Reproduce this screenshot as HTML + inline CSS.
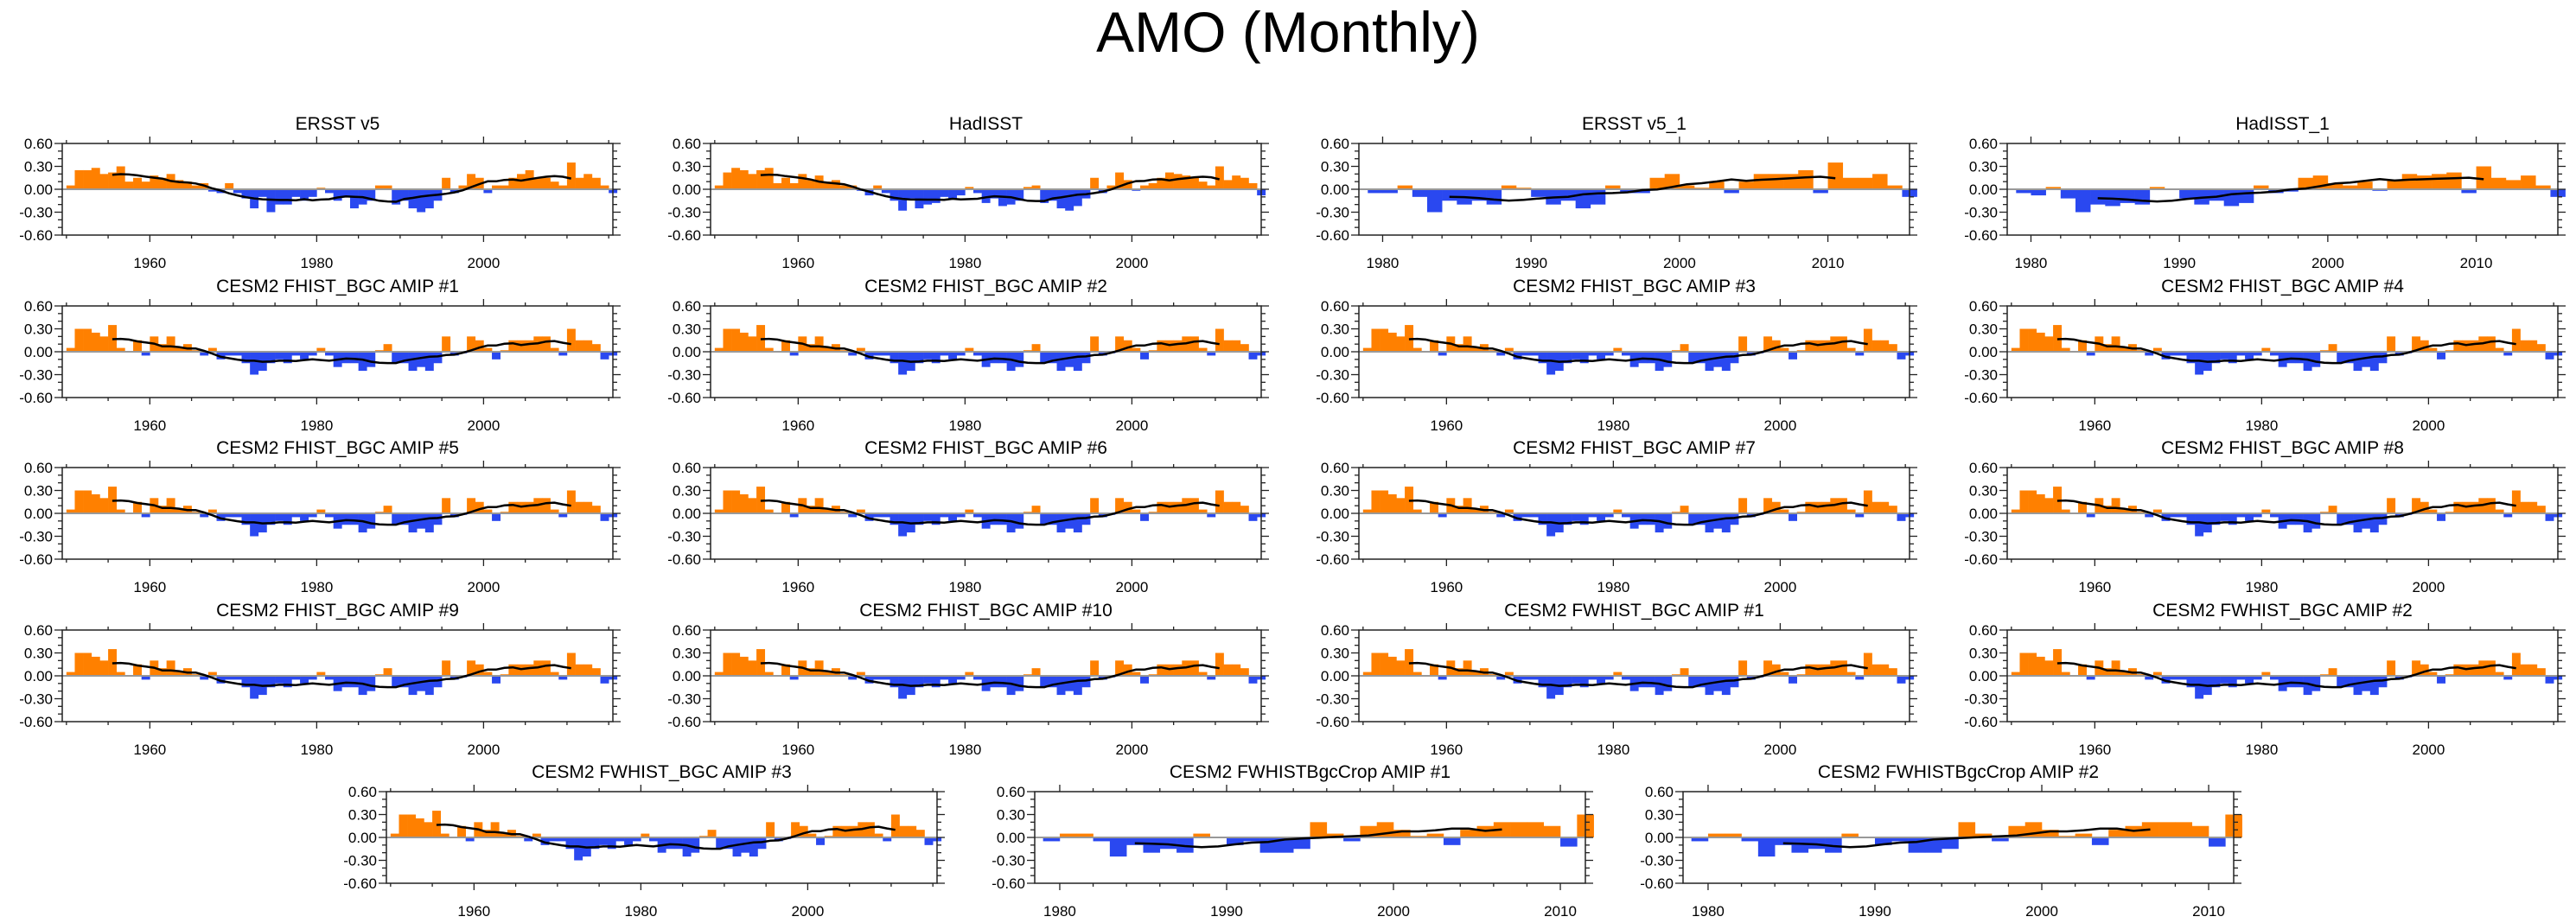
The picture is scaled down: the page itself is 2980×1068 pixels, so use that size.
<!DOCTYPE html>
<html><head><meta charset="utf-8"><style>
html,body{margin:0;padding:0;background:#fff;}
svg{display:block;font-family:"Liberation Sans",sans-serif;}
</style></head><body>
<svg id="chart" width="2980" height="1068" viewBox="0 0 2980 1068" xmlns="http://www.w3.org/2000/svg">
<rect x="0" y="0" width="2980" height="1068" fill="#fff"/>
<text x="1490" y="60" text-anchor="middle" font-size="66">AMO (Monthly)</text>
</svg>
<script>
const yTickValues = [0.6, 0.3, 0, -0.3, -0.6];
const yTickLabels = ["0.60", "0.30", "0.00", "-0.30", "-0.60"];
const longTickYears = [1960, 1980, 2000];
const shortTickYears = [1980, 1990, 2000, 2010];
const ersstYears0 = 1950;
const ersstValues = [0.05,0.25,0.25,0.28,0.2,0.22,0.3,0.1,0.15,0.1,0.18,0.15,0.2,0.12,0.1,0.05,0.08,-0.03,-0.05,0.08,-0.05,-0.12,-0.25,-0.1,-0.3,-0.2,-0.2,-0.1,-0.15,-0.1,0.02,-0.05,-0.15,-0.1,-0.25,-0.2,-0.15,0.05,0.05,-0.2,-0.15,-0.25,-0.3,-0.25,-0.15,0.15,-0.05,0.05,0.2,0.15,-0.05,0.05,0.05,0.15,0.2,0.25,0.15,0.15,0.1,0.05,0.35,0.15,0.2,0.15,0.05,-0.05];
const hadisstValues = [0.05,0.22,0.28,0.25,0.2,0.25,0.28,0.08,0.15,0.08,0.2,0.12,0.18,0.1,0.12,0.05,0.05,-0.02,-0.08,0.05,-0.05,-0.15,-0.28,-0.12,-0.25,-0.2,-0.18,-0.1,-0.12,-0.08,0.03,-0.05,-0.18,-0.12,-0.22,-0.2,-0.15,0.03,0.05,-0.18,-0.15,-0.25,-0.28,-0.22,-0.12,0.15,-0.05,0.05,0.22,0.12,-0.02,0.05,0.08,0.15,0.22,0.2,0.18,0.15,0.1,0.05,0.3,0.12,0.18,0.15,0.08,-0.08];
const modelValues = [0.05,0.3,0.3,0.25,0.2,0.35,0.05,0.0,0.15,-0.05,0.2,0.1,0.2,0.05,0.1,0.02,-0.05,0.05,-0.1,-0.05,-0.05,-0.15,-0.3,-0.25,-0.15,-0.1,-0.15,-0.05,-0.1,-0.05,0.05,-0.05,-0.2,-0.15,-0.15,-0.25,-0.2,0.02,0.1,-0.15,-0.15,-0.25,-0.2,-0.25,-0.15,0.2,-0.05,-0.02,0.2,0.15,0.05,-0.1,0.02,0.15,0.15,0.15,0.2,0.2,0.05,-0.05,0.3,0.15,0.15,0.1,-0.1,-0.05];
const shortYears0 = 1979;
const ersst1Values = [-0.05,-0.05,0.05,-0.1,-0.3,-0.15,-0.2,-0.15,-0.2,0.05,0.02,-0.1,-0.2,-0.15,-0.25,-0.2,0.05,-0.05,-0.05,0.15,0.2,0.05,0.02,0.1,-0.05,0.1,0.2,0.2,0.2,0.25,-0.05,0.35,0.15,0.15,0.2,0.05,-0.1];
const hadisst1Values = [-0.05,-0.08,0.03,-0.12,-0.3,-0.2,-0.22,-0.18,-0.2,0.03,0.0,-0.12,-0.2,-0.15,-0.22,-0.18,0.05,-0.05,-0.03,0.15,0.18,0.08,0.05,0.1,-0.02,0.12,0.2,0.18,0.2,0.22,-0.05,0.3,0.15,0.12,0.18,0.05,-0.1];
const cropValues = [-0.05,0.05,0.05,-0.05,-0.25,-0.1,-0.2,-0.15,-0.2,0.05,0.0,-0.1,-0.05,-0.2,-0.2,-0.15,0.2,0.05,-0.05,0.15,0.2,0.1,0.02,0.05,-0.1,0.1,0.15,0.2,0.2,0.2,0.15,-0.12,0.3];
const panelTitles = ["ERSST v5","HadISST","ERSST v5_1","HadISST_1","CESM2 FHIST_BGC AMIP #1","CESM2 FHIST_BGC AMIP #2","CESM2 FHIST_BGC AMIP #3","CESM2 FHIST_BGC AMIP #4","CESM2 FHIST_BGC AMIP #5","CESM2 FHIST_BGC AMIP #6","CESM2 FHIST_BGC AMIP #7","CESM2 FHIST_BGC AMIP #8","CESM2 FHIST_BGC AMIP #9","CESM2 FHIST_BGC AMIP #10","CESM2 FWHIST_BGC AMIP #1","CESM2 FWHIST_BGC AMIP #2","CESM2 FWHIST_BGC AMIP #3","CESM2 FWHISTBgcCrop AMIP #1","CESM2 FWHISTBgcCrop AMIP #2"];

const NS = "http://www.w3.org/2000/svg";
const svg = document.getElementById("chart");
function mk(tag, attrs, parent){const e=document.createElementNS(NS,tag);for(const k in attrs)e.setAttribute(k,attrs[k]);(parent||svg).appendChild(e);return e;}

const colLeft=[72,822,1572,2322], rowTop=[166,354,541,729];
const W=637, H=106;
const panels=[];
const kinds=["long","long","short","short"];
for(let i=0;i<16;i++){
  const r=Math.floor(i/4), c=i%4;
  let vals, y0, kind="long";
  if(i===0){vals=ersstValues;y0=ersstYears0;}
  else if(i===1){vals=hadisstValues;y0=ersstYears0;}
  else if(i===2){vals=ersst1Values;y0=shortYears0;kind="short";}
  else if(i===3){vals=hadisst1Values;y0=shortYears0;kind="short";}
  else {vals=modelValues;y0=ersstYears0;}
  panels.push({x:colLeft[c],y:rowTop[r],title:panelTitles[i],vals,y0,kind});
}
panels.push({x:447,y:916,title:panelTitles[16],vals:modelValues,y0:ersstYears0,kind:"long"});
panels.push({x:1197,y:916,title:panelTitles[17],vals:cropValues,y0:shortYears0,kind:"crop"});
panels.push({x:1947,y:916,title:panelTitles[18],vals:cropValues,y0:shortYears0,kind:"crop"});

panels.forEach((p,pi)=>{
  const g=mk("g",{});
  
  
  let xmin,xmax,ticks,minorStep;
  if(p.kind==="long"){xmin=1949.5;xmax=2015.5;ticks=longTickYears;minorStep=5;}
  else if(p.kind==="short"){xmin=1978.4;xmax=2015.5;ticks=shortTickYears;minorStep=2;}
  else {xmin=1978.5;xmax=2011.5;ticks=shortTickYears;minorStep=2;}
  const sx=v=>p.x+(v-xmin)/(xmax-xmin)*W;
  const sy=v=>p.y+H/2-v/0.6*(H/2);
  // title
  const t=mk("text",{x:p.x+W/2,y:p.y-16,"text-anchor":"middle","font-size":"21"},g);
  t.textContent=p.title;
  
  
  // bars
  const bw=(sx(1)-sx(0));
  p.vals.forEach((v,k)=>{
    const x=sx(p.y0+k);
    const b=mk("rect",{x:x.toFixed(2),y:Math.min(sy(v),sy(0)).toFixed(2),width:(bw+0.3).toFixed(2),height:Math.abs(sy(v)-sy(0)).toFixed(2),fill:v>=0?"#ff8000":"#2a48f0"},g);
    
    
  });
  // zero line
  const z=mk("line",{x1:p.x,x2:p.x+W,y1:sy(0),y2:sy(0),stroke:"#999",["stroke-width"]:"2"},g);
  
  
  // running mean (11-yr)
  const pts=[];
  for(let k=5;k<p.vals.length-5;k++){let s=0;for(let j=-5;j<=5;j++)s+=p.vals[k+j];pts.push(sx(p.y0+k+0.5).toFixed(1)+","+sy(s/11).toFixed(1));}
  const ln=mk("polyline",{points:pts.join(" "),fill:"none",stroke:"#000","stroke-width":"2.5"},g);
  
  
  // frame
  const fr=mk("rect",{x:p.x,y:p.y,width:W,height:H,fill:"none",stroke:"#222","stroke-width":"1.5"},g);
  
  
  // y ticks
  for(let v=-0.6;v<=0.601;v+=0.1){
    const major=Math.abs(Math.round(v*10)%3)===0;
    const len=major?9:5;
    mk("line",{x1:p.x,x2:p.x-len,y1:sy(v),y2:sy(v),stroke:"#222","stroke-width":"1.3"},g);
    mk("line",{x1:p.x+W,x2:p.x+W+len,y1:sy(v),y2:sy(v),stroke:"#222","stroke-width":"1.3"},g);
  }
  yTickValues.forEach((v,k)=>{
    const tl=mk("text",{x:p.x-11,y:sy(v)+6,"text-anchor":"end","font-size":"17"},g);
    tl.textContent=yTickLabels[k];
    
    
  });
  // x ticks
  for(let yr=Math.ceil(xmin/minorStep)*minorStep;yr<=xmax;yr+=minorStep){
    const major=ticks.includes(yr);
    const len=major?8:4;
    mk("line",{x1:sx(yr),x2:sx(yr),y1:p.y,y2:p.y-len,stroke:"#222","stroke-width":"1.3"},g);
    mk("line",{x1:sx(yr),x2:sx(yr),y1:p.y+H,y2:p.y+H+len,stroke:"#222","stroke-width":"1.3"},g);
  }
  ticks.forEach(yr=>{
    const tl=mk("text",{x:sx(yr),y:p.y+H+38,"text-anchor":"middle","font-size":"17"},g);
    tl.textContent=String(yr);
    
    
  });
});
</script>
</body></html>
